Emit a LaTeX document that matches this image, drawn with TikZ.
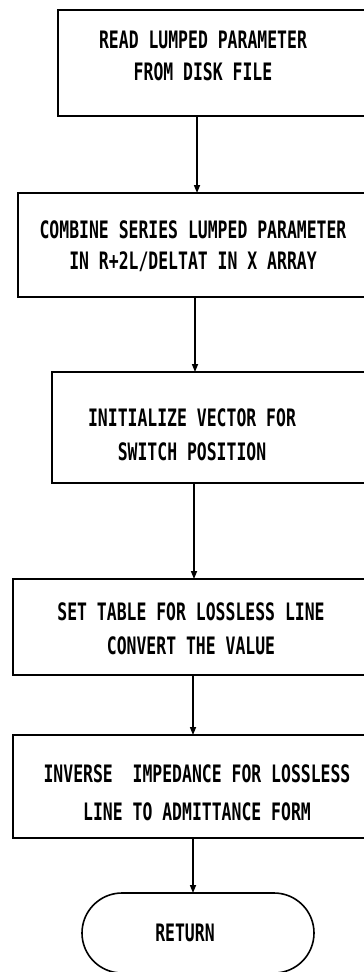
\documentclass[tikz,border=0pt]{standalone}
\usepackage{fontspec}
\setmainfont{DejaVu Sans Mono}[FakeStretch=0.685]
\usetikzlibrary{arrows.meta,shapes.misc}
\tikzset{
  box/.style={draw, line width=1.6pt, rectangle, inner sep=0pt, outer sep=0pt, anchor=north west},
  lbl/.style={align=center, inner sep=0pt},
  arr/.style={line width=1.6pt, -{Triangle[length=8pt,width=6pt]}},
  term/.style={draw, line width=1.6pt, rounded rectangle, minimum width=232pt, minimum height=80pt, inner sep=0pt, outer sep=0pt}
}
\newcommand{\lblfont}[1]{\fontsize{24}{#1}\selectfont\bfseries}
\begin{document}
\begin{tikzpicture}[x=1pt,y=-1pt]
\useasboundingbox (0,0) rectangle (364,972);
\clip (0,0) rectangle (364,972);
\node[box, minimum width=342pt, minimum height=106pt] (b1) at (58,10) {};
\node[box, minimum width=382pt, minimum height=104pt] (b2) at (18,193) {};
\node[box, minimum width=348pt, minimum height=111pt] (b3) at (52,372) {};
\node[box, minimum width=387pt, minimum height=96pt] (b4) at (13,579) {};
\node[box, minimum width=387pt, minimum height=103pt] (b5) at (13,735) {};
\node[term] (ret) at (198,933) {};

\node[lbl, font=\lblfont{32}] (t1) at (203,56) {READ LUMPED PARAMETER\\FROM DISK FILE};
\node[lbl, font=\lblfont{31}] (t2) at (193,246) {COMBINE SERIES LUMPED PARAMETER\\IN R+2L/DELTAT IN X ARRAY};
\node[lbl, font=\lblfont{34}] (t3) at (192,435) {INITIALIZE VECTOR FOR\\SWITCH POSITION};
\node[lbl, font=\lblfont{34}] (t4) at (191,629) {SET TABLE FOR LOSSLESS LINE\\CONVERT THE VALUE};
\node[lbl, font=\lblfont{38}] (t5) at (197,793) {INVERSE\ \ IMPEDANCE FOR LOSSLESS\\LINE TO ADMITTANCE FORM};
\node[lbl, font=\lblfont{34}] (t6) at (185,933) {RETURN};

\coordinate (x1) at (197,0);
\coordinate (x2) at (195,0);
\coordinate (x3) at (194,0);
\coordinate (x4) at (193,0);
\coordinate (x5) at (193,0);
\draw[arr] (b1.south -| x1) -- (b2.north -| x1);
\draw[arr] (b2.south -| x2) -- (b3.north -| x2);
\draw[arr] (b3.south -| x3) -- (b4.north -| x3);
\draw[arr] (b4.south -| x4) -- (b5.north -| x4);
\draw[arr] (b5.south -| x5) -- (ret.north -| x5);
\end{tikzpicture}
\end{document}
